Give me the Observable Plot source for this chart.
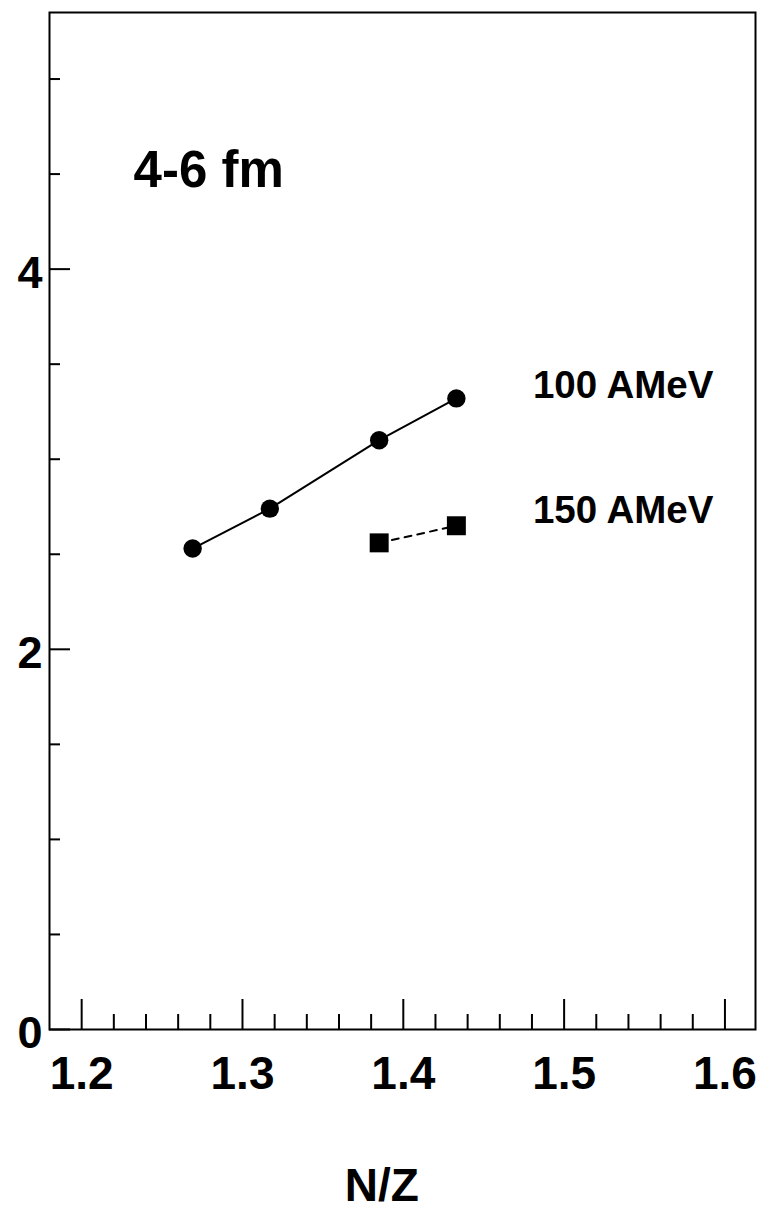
<!DOCTYPE html>
<html>
<head>
<meta charset="utf-8">
<script src="https://cdn.jsdelivr.net/npm/d3@7"></script>
<script src="https://cdn.jsdelivr.net/npm/@observablehq/plot@0.6"></script>
<style>
  html, body { margin: 0; padding: 0; background: #fff; }
</style>
</head>
<body>
<div id="chart"></div>
<script>
// N/Z dependence, impact parameter window 4-6 fm
const nz100 = [1.269, 1.317, 1.385, 1.433];
const val100 = [2.53, 2.74, 3.10, 3.32];
const nz150 = [1.385, 1.433];
const val150 = [2.56, 2.65];

const xMajor = [1.2, 1.3, 1.4, 1.5, 1.6];
const xMinor = [1.22, 1.24, 1.26, 1.28, 1.32, 1.34, 1.36, 1.38,
                1.42, 1.44, 1.46, 1.48, 1.52, 1.54, 1.56, 1.58];
const yMajor = [0, 2, 4];
const yMinor = [0.5, 1, 1.5, 2.5, 3, 3.5, 4.5, 5];

const series100 = nz100.map((x, i) => ({x, y: val100[i]}));
const series150 = nz150.map((x, i) => ({x, y: val150[i]}));

const W = 763, H = 1213;
const mL = 49, mR = 8, mT = 12, mB = 184;
const frameW = W - mL - mR;
const frameH = H - mT - mB;
const font = "'Liberation Sans', Arial, Helvetica, sans-serif";

const chart = Plot.plot({
  width: W,
  height: H,
  marginLeft: mL,
  marginRight: mR,
  marginTop: mT,
  marginBottom: mB,
  style: {fontFamily: font, fontWeight: "bold", color: "black", background: "white"},
  x: {domain: [1.18, 1.619]},
  y: {domain: [0, 5.35]},
  marks: [
    Plot.frame({stroke: "black", strokeWidth: 2}),
    // inward ticks along the bottom axis
    Plot.ruleX(xMajor, {x: d => d, insetTop: frameH - 30, stroke: "black", strokeWidth: 2}),
    Plot.ruleX(xMinor, {x: d => d, insetTop: frameH - 15, stroke: "black", strokeWidth: 2}),
    // inward ticks along the left axis
    Plot.ruleY(yMajor, {y: d => d, insetRight: frameW - 21, stroke: "black", strokeWidth: 2}),
    Plot.ruleY(yMinor, {y: d => d, insetRight: frameW - 11, stroke: "black", strokeWidth: 2}),
    Plot.axisX({ticks: xMajor, tickSize: 0, tickPadding: 27, tickFormat: d3.format(".1f"),
                fontSize: 46, fontWeight: "bold", label: null}),
    Plot.axisY({ticks: yMajor, tickSize: 0, tickPadding: 7, tickFormat: d3.format("d"),
                fontSize: 45, fontWeight: "bold", dy: 4, label: null}),
    // 100 AMeV: solid line with circles
    Plot.line(series100, {x: "x", y: "y", stroke: "black", strokeWidth: 2}),
    Plot.dot(series100, {x: "x", y: "y", r: 9.2, fill: "black", stroke: "none"}),
    // 150 AMeV: dashed line with squares
    Plot.line(series150, {x: "x", y: "y", stroke: "black", strokeWidth: 2, strokeDasharray: "7,6"}),
    Plot.dot(series150, {x: "x", y: "y", r: 10.7, symbol: "square", fill: "black", stroke: "none"}),
    // annotations
    Plot.text(["4-6 fm"], {x: 1.2323, y: 4.516, text: d => d, textAnchor: "start", lineAnchor: "middle",
                           fontSize: 51, fontWeight: "bold", fill: "black"}),
    Plot.text(["100 AMeV"], {x: 1.4806, y: 3.388, text: d => d, textAnchor: "start", lineAnchor: "middle",
                             fontSize: 38.5, fontWeight: "bold", fill: "black"}),
    Plot.text(["150 AMeV"], {x: 1.4806, y: 2.730, text: d => d, textAnchor: "start", lineAnchor: "middle",
                             fontSize: 38.5, fontWeight: "bold", fill: "black"}),
    Plot.text(["N/Z"], {x: 1.3866, frameAnchor: "bottom", dy: 157, text: d => d, textAnchor: "middle",
                        lineAnchor: "middle", fontSize: 46, fontWeight: "bold", fill: "black"})
  ]
});

document.getElementById("chart").appendChild(chart);
</script>
</body>
</html>
